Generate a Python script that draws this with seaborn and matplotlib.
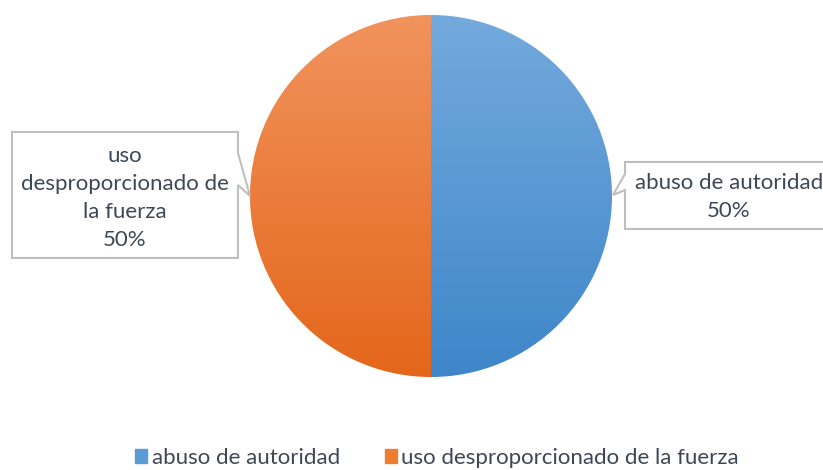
import numpy as np
import matplotlib
matplotlib.use("Agg")
import matplotlib.pyplot as plt
import matplotlib.colors as mcolors
from matplotlib.patches import Polygon
import seaborn as sns

# ============= data =============
categories = ["abuso de autoridad", "uso desproporcionado de la fuerza"]
values = [50, 50]
box_labels = ["abuso de autoridad\n50%", "uso\ndesproporcionado de\nla fuerza\n50%"]

# gradient colours (top -> bottom) per slice
grad_top = ["#74aadd", "#f1935d"]
grad_bottom = ["#3e86c9", "#e4661a"]
base_colors = ["#5b9bd5", "#ed7d31"]

sns.set_style("white")
plt.rcParams["font.family"] = ["Lato", "DejaVu Sans"]
text_color = "#3e4756"

W, H = 823, 470
fig = plt.figure(figsize=(W / 100, H / 100), dpi=100)

# pie centre / radius in pixels
cx, cy, r = 431, 196, 181
ax = fig.add_axes([(cx - r) / W, (H - cy - r) / H, 2 * r / W, 2 * r / H])
wedges, _ = ax.pie(values, colors=base_colors, startangle=90, counterclock=False,
                   radius=1, wedgeprops=dict(edgecolor="white", linewidth=0.8))
ax.set_xlim(-1, 1)
ax.set_ylim(-1, 1)
ax.set_aspect("equal")
ax.axis("off")

# vertical gradient fill on each slice
grad = np.linspace(0, 1, 256).reshape(-1, 1)
for w, top, bot in zip(wedges, grad_top, grad_bottom):
    cmap = mcolors.LinearSegmentedColormap.from_list("g", [top, bot])
    im = ax.imshow(grad, cmap=cmap, extent=[-1, 1, -1, 1], origin="upper",
                   aspect="auto", zorder=w.get_zorder() + 0.1)
    im.set_clip_path(w)
ax.set_xlim(-1, 1)
ax.set_ylim(-1, 1)


def px(pts):
    return [(x / W, 1 - y / H) for x, y in pts]


# callout boxes (pixel outlines)
right_box = [(625, 162), (840, 162), (840, 229), (625, 229), (625, 190), (613, 195), (625, 174)]
left_box = [(12, 132), (238, 132), (238, 153), (250, 196), (238, 185), (238, 258), (12, 258)]
for poly in (right_box, left_box):
    fig.patches.append(Polygon(px(poly), closed=True, transform=fig.transFigure,
                               facecolor="white", edgecolor="#bfbfbf", linewidth=1.5))

fig.text(729 / W, 1 - 197 / H, box_labels[0], ha="center", va="center",
         multialignment="center", fontsize=16, color=text_color, linespacing=1.55)
fig.text(125 / W, 1 - 198 / H, box_labels[1], ha="center", va="center",
         multialignment="center", fontsize=16, color=text_color, linespacing=1.5)

# legend
handles = [plt.Rectangle((0, 0), 1, 1, color=c) for c in base_colors]
fig.legend(handles, categories, loc="center", ncol=2, frameon=False,
           bbox_to_anchor=(437 / W, 1 - 458 / H), fontsize=16,
           handlelength=0.55, handleheight=0.55, handletextpad=0.2,
           columnspacing=2.0, labelcolor=text_color)

fig.savefig("out.png", dpi=100)
